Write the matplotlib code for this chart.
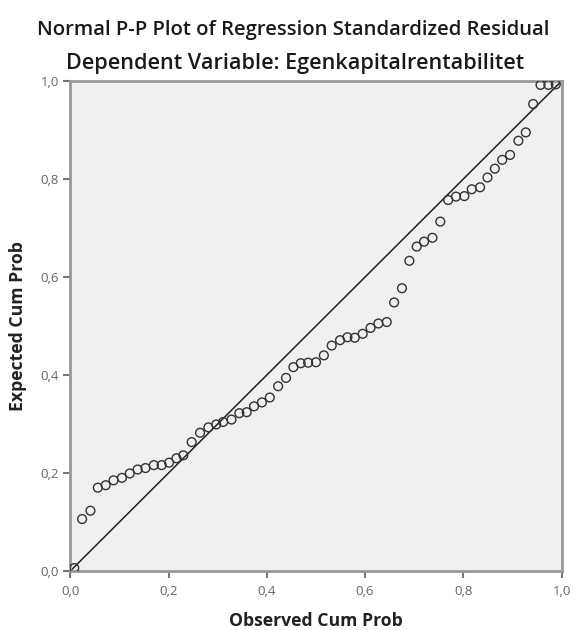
import matplotlib
matplotlib.use("Agg")
import matplotlib.pyplot as plt
from matplotlib.ticker import FuncFormatter

# Observed cumulative probability (x) and expected cumulative probability (y)
observed = [0.008, 0.024, 0.041, 0.056, 0.072, 0.088, 0.105, 0.121, 0.137, 0.153,
            0.170, 0.186, 0.201, 0.216, 0.230, 0.247, 0.264, 0.281, 0.297, 0.311,
            0.328, 0.344, 0.359, 0.374, 0.390, 0.406, 0.423, 0.439, 0.454, 0.469,
            0.484, 0.500, 0.516, 0.532, 0.549, 0.564, 0.579, 0.595, 0.611, 0.627,
            0.644, 0.659, 0.675, 0.690, 0.705, 0.720, 0.737, 0.753, 0.769, 0.785,
            0.802, 0.817, 0.834, 0.849, 0.864, 0.879, 0.895, 0.912, 0.927, 0.942,
            0.957, 0.973, 0.988]
expected = [0.006, 0.106, 0.123, 0.170, 0.175, 0.185, 0.190, 0.199, 0.207, 0.210,
            0.216, 0.216, 0.221, 0.230, 0.236, 0.263, 0.282, 0.293, 0.299, 0.304,
            0.309, 0.322, 0.324, 0.336, 0.344, 0.354, 0.377, 0.394, 0.416, 0.424,
            0.425, 0.426, 0.440, 0.460, 0.471, 0.477, 0.476, 0.484, 0.496, 0.505,
            0.508, 0.548, 0.577, 0.633, 0.662, 0.672, 0.680, 0.713, 0.757, 0.764,
            0.765, 0.779, 0.783, 0.803, 0.821, 0.839, 0.849, 0.878, 0.895, 0.953,
            0.992, 0.992, 0.993]
ticks = [0.0, 0.2, 0.4, 0.6, 0.8, 1.0]

title1 = "Normal P-P Plot of Regression Standardized Residual"
title2 = "Dependent Variable: Egenkapitalrentabilitet"
xlabel = "Observed Cum Prob"
ylabel = "Expected Cum Prob"

plt.rcParams['font.family'] = ['Open Sans', 'DejaVu Sans']

fig = plt.figure(figsize=(5.74, 6.30), dpi=100)
ax = fig.add_axes([0.1225, 0.0937, 0.856, 0.7778])
ax.set_facecolor('#f0f0f0')

ax.plot([0, 1], [0, 1], color='#222222', linewidth=1.1, zorder=2)
ax.scatter(observed, expected, s=40, facecolors='none', edgecolors='#333333',
           linewidths=1.0, zorder=3)

ax.set_xlim(0, 1)
ax.set_ylim(0, 1)
ax.set_xticks(ticks)
ax.set_yticks(ticks)
fmt = FuncFormatter(lambda v, p: f"{v:.1f}".replace('.', ','))
ax.xaxis.set_major_formatter(fmt)
ax.yaxis.set_major_formatter(fmt)
ax.tick_params(axis='both', direction='out', length=5, width=1.5, color='#777777',
               labelsize=9.5, labelcolor='#666666', pad=3)
ax.tick_params(axis='x', pad=5)

for s in ax.spines.values():
    s.set_color('#999999')
    s.set_linewidth(2.0)

ax.set_xlabel(xlabel, fontsize=12.7, fontweight='bold', color='#222222', labelpad=10)
ax.set_ylabel(ylabel, fontsize=12.7, fontweight='bold', color='#222222', labelpad=10)

fig.text(0.51, 1 - 30 / 630, title1, ha='center', va='center', fontsize=14.6,
         fontweight='semibold', color='#1a1a1a')
fig.text(0.514, 1 - 63 / 630, title2, ha='center', va='center', fontsize=15.6,
         fontweight='semibold', color='#1a1a1a')

fig.savefig('out.png', dpi=100, facecolor='white')
